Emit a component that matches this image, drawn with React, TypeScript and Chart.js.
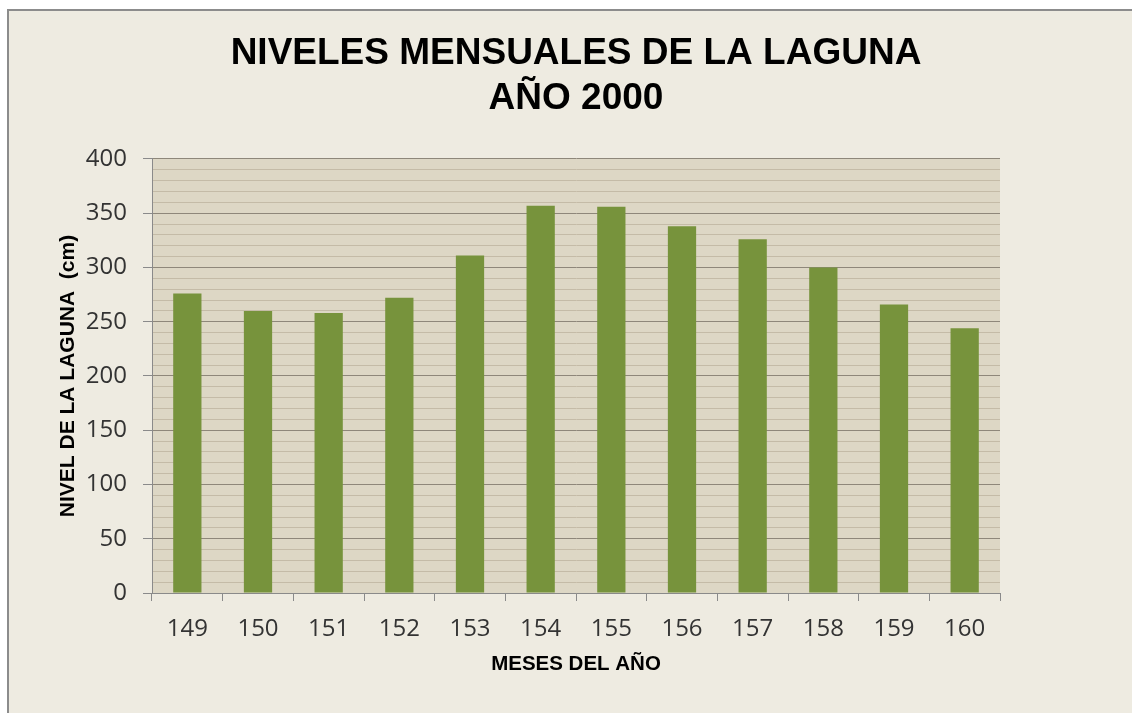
import React, { useEffect, useRef } from 'react';
import { Chart, registerables } from 'chart.js';

Chart.register(...registerables);

// ---- data ----
const categories = ['149', '150', '151', '152', '153', '154', '155', '156', '157', '158', '159', '160'];
const levels = [276, 260, 258, 272, 311, 357, 356, 338, 326, 300, 266, 244];
const yMin = 0;
const yMax = 400;
const yMajorStep = 50;
const yMinorStep = 10;
const chartTitle = ['NIVELES MENSUALES DE LA LAGUNA', 'AÑO 2000'];
const xTitle = 'MESES DEL AÑO';
const yTitle = 'NIVEL DE LA LAGUNA  (cm)';

// ---- styles ----
const PAGE_BG = '#EEEBE1';
const PLOT_BG = '#DDD7C5';
const BAR = '#77933C';
const GRID_MAJOR = '#8E877A';
const GRID_MINOR = '#C4BBA7';
const AXIS = '#8A8A8A';
const TICK_TEXT = '#333333';

const plotBackground = {
  id: 'plotBackground',
  beforeDraw(chart: any) {
    const { ctx, chartArea: a } = chart;
    ctx.save();
    ctx.fillStyle = PLOT_BG;
    ctx.fillRect(a.left, a.top, a.right - a.left, a.bottom - a.top);
    ctx.restore();
  },
};

export default function App() {
  const ref = useRef<HTMLCanvasElement | null>(null);

  useEffect(() => {
    if (!ref.current) return;
    const chart = new Chart(ref.current, {
      type: 'bar',
      data: {
        labels: categories,
        datasets: [
          {
            data: levels,
            backgroundColor: BAR,
            borderWidth: 0,
            barPercentage: 0.4,
            categoryPercentage: 1,
          },
        ],
      },
      options: {
        responsive: false,
        animation: false,
        layout: { padding: { left: 0, right: 132, top: 0, bottom: 0 } },
        plugins: {
          legend: { display: false },
          tooltip: { enabled: false },
          title: {
            display: true,
            fullSize: false,
            text: chartTitle,
            color: '#000000',
            font: { family: '"Liberation Sans", Arial, sans-serif', size: 37, weight: 'bold', lineHeight: 1.216 },
            padding: { top: 20, bottom: 38 },
          },
        },
        scales: {
          x: {
            afterFit(scale: any) {
              scale.height = 120;
            },
            grid: {
              offset: true,
              drawOnChartArea: false,
              drawTicks: true,
              tickLength: 8,
              color: AXIS,
            },
            border: { display: true, color: AXIS, width: 1 },
            ticks: {
              color: TICK_TEXT,
              font: { family: '"Open Sans", sans-serif', size: 24 },
              padding: 14,
              maxRotation: 0,
            },
            title: {
              display: true,
              text: xTitle,
              color: '#000000',
              font: { family: '"Liberation Sans", Arial, sans-serif', size: 20.5, weight: 'bold', lineHeight: 1.2 },
              padding: { top: 0, bottom: 36 },
            },
          },
          y: {
            min: yMin,
            max: yMax,
            afterFit(scale: any) {
              scale.width = 143;
            },
            ticks: {
              stepSize: yMinorStep,
              autoSkip: false,
              color: TICK_TEXT,
              font: { family: '"Open Sans", sans-serif', size: 24 },
              padding: 16,
              callback: (v: any) => (Number(v) % yMajorStep === 0 ? String(v) : ''),
            },
            grid: {
              drawTicks: true,
              tickLength: 9,
              lineWidth: 1,
              color: (ctx: any) => (ctx.tick && ctx.tick.value % yMajorStep === 0 ? GRID_MAJOR : GRID_MINOR),
              tickColor: (ctx: any) => (ctx.tick && ctx.tick.value % yMajorStep === 0 ? AXIS : 'rgba(0,0,0,0)'),
            },
            border: { display: true, color: AXIS, width: 1 },
            title: {
              display: true,
              text: yTitle,
              color: '#000000',
              font: { family: '"Liberation Sans", Arial, sans-serif', size: 21, weight: 'bold', lineHeight: 1.2 },
              padding: { top: 47, bottom: 0 },
            },
          },
        },
      },
      plugins: [plotBackground],
    } as any);
    return () => chart.destroy();
  }, []);

  return (
    <div
      style={{
        position: 'fixed',
        left: 7,
        top: 9,
        width: 1125,
        height: 704,
        boxSizing: 'border-box',
        borderTop: '2px solid #8C8C8C',
        borderLeft: '2px solid #8C8C8C',
        background: PAGE_BG,
      }}
    >
      <canvas ref={ref} width={1123} height={702} style={{ display: 'block' }} />
    </div>
  );
}
